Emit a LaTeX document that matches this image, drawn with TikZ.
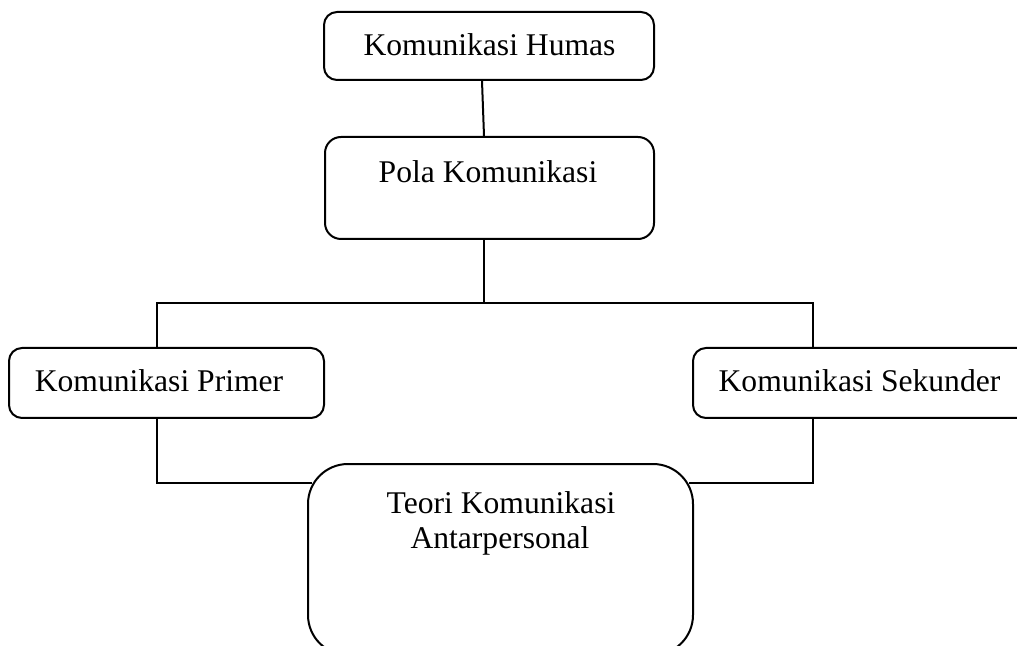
\documentclass[tikz,border=0pt]{standalone}
\usepackage{fontspec}
\setmainfont{Liberation Serif}
\begin{document}
\begin{tikzpicture}[x=0.5pt,y=-0.5pt,
  box/.style={draw=black, line width=1pt, rounded corners=6.5pt, inner sep=0pt},
  lbl/.style={font=\fontsize{15.8}{17.5}\selectfont, inner sep=0pt, anchor=base},
  conn/.style={draw=black, line width=1pt}]
\useasboundingbox (0,0) rectangle (1017,646);
\clip (0,0) rectangle (1017,646);
% boxes
\node[box, minimum width=165pt, minimum height=34pt] (humas) at (489,46) {};
\node[box, minimum width=164.5pt, minimum height=51pt, rounded corners=8pt] (pola) at (489.5,188) {};
\node[box, minimum width=157.5pt, minimum height=35pt] (primer) at (166.5,383) {};
\node[box, minimum width=168.5pt, minimum height=35pt] (sekunder) at (861.5,383) {};
\node[box, minimum width=192.5pt, minimum height=95.5pt, rounded corners=20pt] (teori) at (500.5,559.5) {};
% texts
\node[lbl] (humasT) at (489.5,56) {Komunikasi Humas};
\node[lbl] (polaT) at (488,183) {Pola Komunikasi};
\node[lbl] (primerT) at (159,392) {Komunikasi Primer};
\node[lbl] (sekunderT) at (859.5,392) {Komunikasi Sekunder};
\node[lbl] (teoriA) at (501,513) {Teori Komunikasi};
\node[lbl] (teoriB) at (500,548) {Antarpersonal};
% connectors
\coordinate (busC) at (484,303);
\coordinate (busL) at (157,303);
\coordinate (busR) at (813,303);
\coordinate (lowL) at (157,483);
\coordinate (lowR) at (813,483);
\draw[conn] ([xshift=-3.5pt]humas.south) -- ([xshift=-2.75pt]pola.north);
\draw[conn] ([xshift=-2.75pt]pola.south) -- (busC);
\draw[conn] (primer.north -| busL) -- (busL) -- (busR) -- (sekunder.north -| busR);
\draw[conn, shorten >=-2.5pt] (primer.south -| lowL) -- (lowL) -- (lowL -| teori.west);
\draw[conn, shorten >=-2.5pt] (sekunder.south -| lowR) -- (lowR) -- (lowR -| teori.east);
\end{tikzpicture}
\end{document}
